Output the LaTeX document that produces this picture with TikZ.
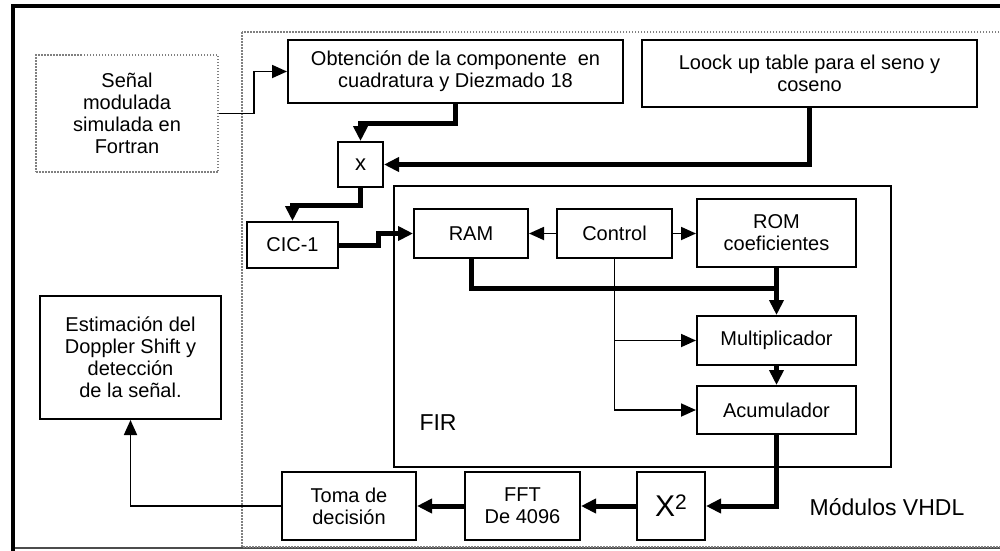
\documentclass[tikz,border=0pt]{standalone}
\usepackage{fontspec}
\setmainfont{Liberation Sans}
\usetikzlibrary{arrows.meta}

\begin{document}
\begin{tikzpicture}[x=1pt, y=-1pt,
    blk/.style={draw, line width=2pt, align=center, inner sep=0pt, font=\fontsize{20}{22}\selectfont},
    dotblk/.style={blk, draw=gray, dash pattern=on 1.5pt off 1.5pt},
    thinarrow/.style={line width=1.8pt, -{Triangle[length=15pt, width=13pt]}},
    thickarrow/.style={line width=5pt, -{Triangle[length=15pt, width=14pt]}},
    thickline/.style={line width=5pt}]
    \useasboundingbox (0, 0) rectangle (1000, 550);
    \clip (0, 0) rectangle (1000, 550);

    % Frame and dotted VHDL area
    \draw[line width=1.5pt, gray!60!black] (13, 548) -- (1010, 548);
    \draw[line width=4.5pt] (13, 560) -- (13, 6) -- (1010, 6);
    \draw[gray, line width=1.5pt, dash pattern=on 1.5pt off 1.5pt] (242, 32) rectangle (1010, 547);

    % FIR area
    \node[draw, line width=2pt, minimum width=497pt, minimum height=281pt] (fir) at (642.5, 326.5) {};
    \node[anchor=west, font=\fontsize{23}{26}\selectfont] (firlbl) at (416, 423) {FIR};
    \node[font=\fontsize{23}{26}\selectfont] (vhdl) at (887, 507) {Módulos VHDL};

    % Blocks
    \node[dotblk, minimum width=182pt, minimum height=117pt] (sig) at (127, 113.5) {Señal\\modulada\\simulada en\\Fortran};
    \node[blk, minimum width=335pt, minimum height=63pt] (obt) at (455.5, 71.5) {Obtención de la componente\ \ en\\cuadratura y Diezmado 18};
    \node[blk, minimum width=335pt, minimum height=67pt] (lut) at (809.5, 73.5) {Loock up table para el seno y\\coseno};
    \node[blk, minimum width=45pt, minimum height=45pt, font=\fontsize{22}{24}\selectfont] (mul) at (360.5, 164.5) {x};
    \node[blk, minimum width=91pt, minimum height=46pt] (cic) at (292.5, 245) {CIC-1};
    \node[blk, minimum width=114pt, minimum height=49pt] (ram) at (471, 233.5) {RAM};
    \node[blk, minimum width=115pt, minimum height=49pt] (ctrl) at (614.5, 233.5) {Control};
    \node[blk, minimum width=159pt, minimum height=68pt] (rom) at (776.5, 233) {ROM\\coeficientes};
    \node[blk, minimum width=159pt, minimum height=49pt] (mlt) at (776.5, 340.5) {Multiplicador};
    \node[blk, minimum width=159pt, minimum height=48pt] (acc) at (776.5, 410) {Acumulador};
    \node[blk, minimum width=181pt, minimum height=123pt] (est) at (130.5, 357.5) {Estimación del\\Doppler Shift y\\detección\\de la señal.};
    \node[blk, minimum width=134pt, minimum height=68pt] (toma) at (349, 506) {Toma de\\decisión};
    \node[blk, minimum width=115pt, minimum height=68pt] (fft) at (522.5, 506) {FFT\\De 4096};
    \node[blk, minimum width=68pt, minimum height=68pt, font=\fontsize{30}{30}\selectfont] (sq) at (671, 506) {X\raisebox{7pt}{\fontsize{21}{21}\selectfont 2}};

    % Signal path
    \draw[thinarrow] (sig.east) -- ++(35, 0) |- (obt.west);
    \draw[thickarrow] (obt.south) -- ++(0, 19) -| (mul.north);
    \draw[thickarrow] (lut.south) |- (mul.east);
    \draw[thickarrow] (mul.south) -- ++(0, 17) -| (cic.north);
    \draw[thickarrow] (cic.east) -- ++(39, 0) |- (ram.west);

    % Inside the FIR
    \draw[thinarrow] (ctrl.west) -- (ram.east);
    \draw[thinarrow] (ctrl.east) -- (ctrl.east -| rom.west);
    \path (rom.south) ++(0, 20) coordinate (jn);
    \draw[thickline] (ram.south) |- (jn);
    \draw[thickarrow] (rom.south) -- (mlt.north);
    \draw[thinarrow] (ctrl.south) |- (acc.west);
    \draw[thinarrow] (ctrl.south |- mlt.west) -- (mlt.west);
    \draw[thickarrow] (mlt.south) -- (acc.north);

    % Output chain
    \draw[thickarrow] (acc.south) |- (sq.east);
    \draw[thickarrow] (sq.west) -- (fft.east);
    \draw[thickarrow] (fft.west) -- (toma.east);
    \draw[thinarrow] (toma.west) -| (est.south);
\end{tikzpicture}
\end{document}
